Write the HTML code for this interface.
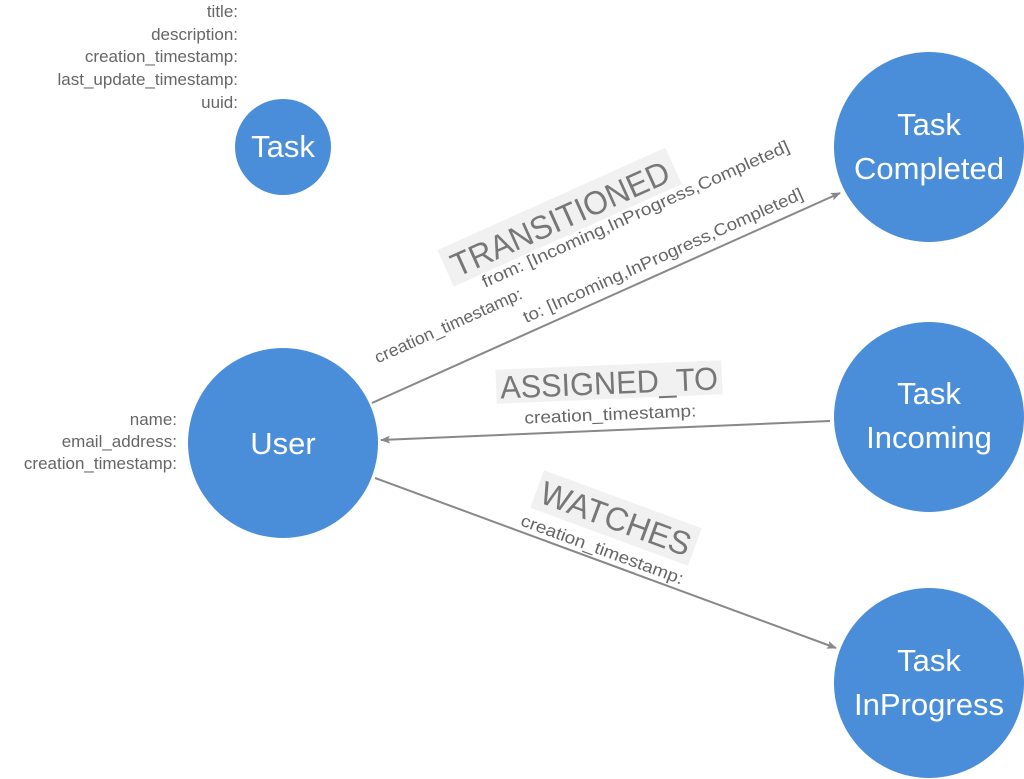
<!DOCTYPE html>
<html><head><meta charset="utf-8"><style>
html,body{margin:0;padding:0;background:#fff;}
svg{display:block;font-family:"Liberation Sans",sans-serif;}
</style></head><body>
<svg width="1024" height="779" viewBox="0 0 1024 779" xmlns="http://www.w3.org/2000/svg">
<defs>
<marker id="ah" markerWidth="10" markerHeight="8" refX="9" refY="4" orient="auto" markerUnits="userSpaceOnUse">
<path d="M0,0 L10,4 L0,8 L2,4 Z" fill="#888"/>
</marker>
</defs>
<!-- edges -->
<line x1="372" y1="403" x2="840" y2="193" stroke="#888" stroke-width="2" marker-end="url(#ah)"/>
<line x1="830" y1="421" x2="381" y2="440" stroke="#888" stroke-width="2" marker-end="url(#ah)"/>
<line x1="375" y1="478" x2="836" y2="648" stroke="#888" stroke-width="2" marker-end="url(#ah)"/>

<!-- nodes -->
<g fill="#4a8ed9">
<circle cx="283" cy="147" r="48"/>
<circle cx="283" cy="443" r="95"/>
<circle cx="929" cy="147" r="95"/>
<circle cx="929" cy="417" r="95"/>
<circle cx="929" cy="683" r="95"/>
</g>
<g fill="#fff" font-size="31" text-anchor="middle">
<text x="283" y="157">Task</text>
<text x="283" y="454">User</text>
<text x="929" y="135">Task</text>
<text x="929" y="179">Completed</text>
<text x="929" y="404">Task</text>
<text x="929" y="448">Incoming</text>
<text x="929" y="671">Task</text>
<text x="929" y="715">InProgress</text>
</g>

<!-- property lists -->
<g fill="#666" font-size="17" text-anchor="end">
<text x="238" y="17">title:</text>
<text x="238" y="40">description:</text>
<text x="238" y="62">creation_timestamp:</text>
<text x="238" y="85">last_update_timestamp:</text>
<text x="238" y="108">uuid:</text>
<text x="177" y="425">name:</text>
<text x="177" y="447">email_address:</text>
<text x="177" y="469">creation_timestamp:</text>
</g>

<!-- TRANSITIONED -->
<g transform="translate(560,218) rotate(-24.2)">
<rect x="-125" y="-21" width="250" height="40" fill="#f1f1f1"/>
<text x="0" y="12" font-size="33" fill="#777" text-anchor="middle" textLength="236" lengthAdjust="spacingAndGlyphs">TRANSITIONED</text>
<g fill="#666" font-size="17">
<text x="-97" y="33" textLength="335" lengthAdjust="spacingAndGlyphs">from: [Incoming,InProgress,Completed]</text>
<text x="-226" y="58" textLength="160" lengthAdjust="spacingAndGlyphs">creation_timestamp:</text>
<text x="-74" y="82" textLength="305" lengthAdjust="spacingAndGlyphs">to: [Incoming,InProgress,Completed]</text>
</g>
</g>

<!-- ASSIGNED_TO -->
<g transform="translate(609,382) rotate(-2.4)">
<rect x="-113" y="-17" width="226" height="34" fill="#f1f1f1"/>
<text x="0" y="12" font-size="32" fill="#777" text-anchor="middle" textLength="218" lengthAdjust="spacingAndGlyphs">ASSIGNED_TO</text>
<text x="0" y="38" font-size="17" fill="#666" text-anchor="middle" textLength="172" lengthAdjust="spacingAndGlyphs">creation_timestamp:</text>
</g>

<!-- WATCHES -->
<g transform="translate(616,518) rotate(20.2)">
<rect x="-84" y="-20" width="168" height="40" fill="#f1f1f1"/>
<text x="0" y="12" font-size="33" fill="#777" text-anchor="middle" textLength="158" lengthAdjust="spacingAndGlyphs">WATCHES</text>
<text x="-2" y="40" font-size="17" fill="#666" text-anchor="middle" textLength="172" lengthAdjust="spacingAndGlyphs">creation_timestamp:</text>
</g>
</svg>
</body></html>
